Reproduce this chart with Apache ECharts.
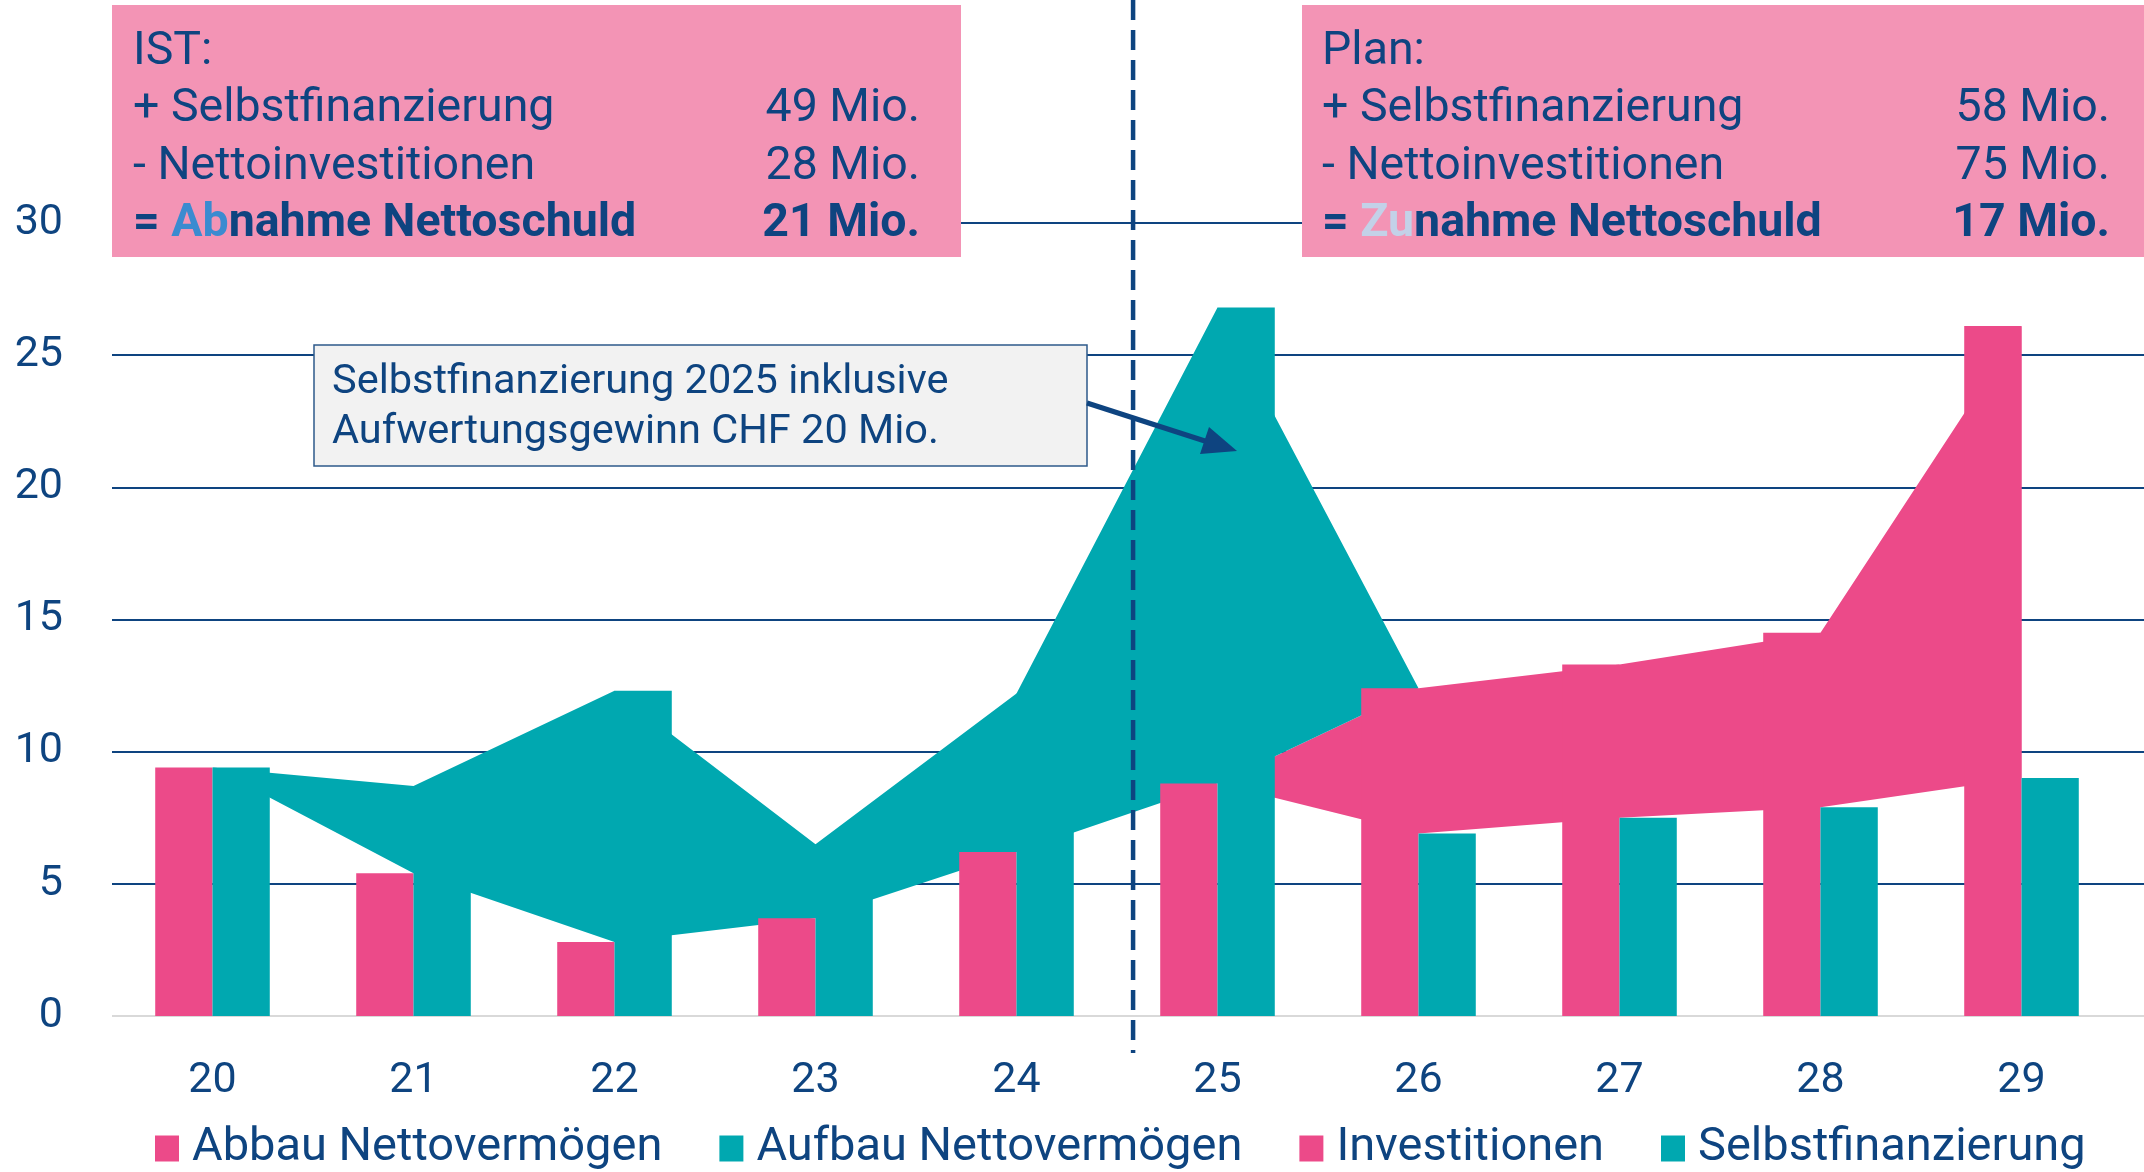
<!DOCTYPE html>
<html>
<head>
<meta charset="utf-8">
<script src="https://cdn.jsdelivr.net/npm/echarts@6/dist/echarts.min.js"></script>
<style>
  html, body { margin: 0; padding: 0; background: #fff; }
  #chart { width: 2144px; height: 1172px; }
</style>
</head>
<body>
<div id="chart"></div>
<script>
// Jahre (20 = 2020 ...)
const years = ['20', '21', '22', '23', '24', '25', '26', '27', '28', '29'];
// Werte in Mio. CHF
const investitionen = [9.4, 5.4, 2.8, 3.7, 6.2, 8.8, 12.4, 13.3, 14.5, 26.1];
const selbstfinanzierung = [9.4, 8.7, 12.3, 6.5, 12.2, 26.8, 6.9, 7.5, 7.9, 9.0];
const yMin = 0, yMax = 30, yStep = 5;

// Kastentexte
const istLines = ['IST:', '+ Selbstfinanzierung', '- Nettoinvestitionen'];
const istValues = ['', '49 Mio.', '28 Mio.', '21 Mio.'];
const planLines = ['Plan:', '+ Selbstfinanzierung', '- Nettoinvestitionen'];
const planValues = ['', '58 Mio.', '75 Mio.', '17 Mio.'];

const PINK = '#EC4A89';
const TEAL = '#00A8B0';
const NAVY = '#0E4480';
const FONT = 'Roboto';

// Band zwischen den beiden Reihen (gestapelte Flaechen)
const base = investitionen.map((v, i) => Math.min(v, selbstfinanzierung[i]));
const abbau = investitionen.map((v, i) => Math.max(0, v - selbstfinanzierung[i]));
const aufbau = investitionen.map((v, i) => Math.max(0, selbstfinanzierung[i] - v));

const chart = echarts.init(document.getElementById('chart'));

const option = {
  animation: false,
  textStyle: { fontFamily: FONT },
  grid: [
    { left: 112, right: 0, top: 223, bottom: 156 },
    { left: 112, right: 22, top: 223, bottom: 156 }
  ],
  legend: {
    left: 150,
    top: 1120,
    selectedMode: false,
    icon: 'rect',
    itemWidth: 24,
    itemHeight: 26,
    itemGap: 57,
    textStyle: { color: NAVY, fontSize: 47, fontFamily: FONT, padding: [0, 0, 0, 8] },
    data: ['Abbau Nettovermögen', 'Aufbau Nettovermögen', 'Investitionen', 'Selbstfinanzierung']
  },
  xAxis: [
    { type: 'value', gridIndex: 0, min: 0, max: 1, show: false },
    {
      type: 'category', gridIndex: 1, data: years,
      axisLine: { show: false }, axisTick: { show: false },
      axisLabel: { color: NAVY, fontSize: 43, margin: 44, fontFamily: FONT }
    }
  ],
  yAxis: [
    {
      type: 'value', gridIndex: 0, min: yMin, max: yMax, interval: yStep,
      axisLine: { show: false }, axisTick: { show: false },
      axisLabel: { color: NAVY, fontSize: 43, margin: 49, fontFamily: FONT },
      splitLine: {
        lineStyle: {
          color: ['#D9D9D9', NAVY, NAVY, NAVY, NAVY, NAVY, NAVY],
          width: 2
        }
      }
    },
    { type: 'value', gridIndex: 1, min: yMin, max: yMax, show: false }
  ],
  series: [
    {
      name: 'base', type: 'line', xAxisIndex: 1, yAxisIndex: 1, stack: 'band',
      data: base, symbol: 'none', lineStyle: { width: 0 }, silent: true, z: 1
    },
    {
      name: 'Abbau Nettovermögen', type: 'line', xAxisIndex: 1, yAxisIndex: 1, stack: 'band',
      data: abbau, symbol: 'none', color: PINK, itemStyle: { color: PINK },
      lineStyle: { width: 0 }, areaStyle: { color: PINK, opacity: 1 }, silent: true, z: 1
    },
    {
      name: 'Aufbau Nettovermögen', type: 'line', xAxisIndex: 1, yAxisIndex: 1, stack: 'band',
      data: aufbau, symbol: 'none', color: TEAL, itemStyle: { color: TEAL },
      lineStyle: { width: 0 }, areaStyle: { color: TEAL, opacity: 1 }, silent: true, z: 1
    },
    {
      name: 'Investitionen', type: 'bar', xAxisIndex: 1, yAxisIndex: 1,
      data: investitionen, barWidth: '28.5%', barGap: '0%', itemStyle: { color: PINK }, z: 3
    },
    {
      name: 'Selbstfinanzierung', type: 'bar', xAxisIndex: 1, yAxisIndex: 1,
      data: selbstfinanzierung, barWidth: '28.5%', barGap: '0%', itemStyle: { color: TEAL }, z: 3
    }
  ]
};
chart.setOption(option);

// Trennlinie IST / Plan zwischen 24 und 25
const x24 = chart.convertToPixel({ xAxisIndex: 1 }, '24');
const x25 = chart.convertToPixel({ xAxisIndex: 1 }, '25');
const xSplit = x24 + 0.58 * (x25 - x24);

function boxTexts(x0, xr, lines, values, bold, hl, hlColor) {
  const rowY = [52, 109, 167, 224];
  const fs = 46.5;
  const els = [];
  lines.forEach((t, i) => {
    els.push({
      type: 'text', z: 11,
      style: { text: t, x: x0, y: rowY[i], fill: NAVY, fontSize: fs, fontFamily: FONT, verticalAlign: 'middle' }
    });
  });
  els.push({
    type: 'text', z: 11,
    style: {
      text: '{p|= }{h|' + hl + '}{p|' + bold + '}', x: x0, y: rowY[3], verticalAlign: 'middle',
      rich: {
        p: { fill: NAVY, fontSize: fs, fontWeight: 'bold', fontFamily: FONT },
        h: { fill: hlColor, fontSize: fs, fontWeight: 'bold', fontFamily: FONT }
      }
    }
  });
  values.forEach((v, i) => {
    if (!v) return;
    els.push({
      type: 'text', z: 11,
      style: {
        text: v, x: xr, y: rowY[i], fill: NAVY, fontSize: fs, fontFamily: FONT,
        fontWeight: i === 3 ? 'bold' : 'normal', align: 'right', verticalAlign: 'middle'
      }
    });
  });
  return els;
}

const graphics = [
  {
    type: 'line', z: 12,
    shape: { x1: xSplit, y1: 0, x2: xSplit, y2: 1053 },
    style: { stroke: NAVY, lineWidth: 4.5, lineDash: [20, 10] }
  },
  { type: 'rect', z: 10, shape: { x: 112, y: 5, width: 849, height: 252 }, style: { fill: '#F394B5' } },
  { type: 'rect', z: 10, shape: { x: 1302, y: 5, width: 842, height: 252 }, style: { fill: '#F394B5' } },
  ...boxTexts(133, 920, istLines, istValues, 'nahme Nettoschuld', 'Ab', '#3B8BD0'),
  ...boxTexts(1322, 2110, planLines, planValues, 'nahme Nettoschuld', 'Zu', '#C3D1E8'),
  {
    type: 'rect', z: 10,
    shape: { x: 314, y: 345, width: 773, height: 121 },
    style: { fill: '#F2F2F2', stroke: '#2E5A8A', lineWidth: 1.5 }
  },
  {
    type: 'text', z: 11,
    style: {
      text: 'Selbstfinanzierung 2025 inklusive\nAufwertungsgewinn CHF 20 Mio.',
      x: 332, y: 408, fill: NAVY, fontSize: 41.5, lineHeight: 50, fontFamily: FONT, verticalAlign: 'middle'
    }
  },
  {
    type: 'line', z: 12,
    shape: { x1: 1087, y1: 403, x2: 1208, y2: 442 },
    style: { stroke: NAVY, lineWidth: 5 }
  },
  {
    type: 'polygon', z: 12,
    shape: { points: [[1237, 451], [1200, 454], [1209, 427]] },
    style: { fill: NAVY }
  }
];
chart.setOption({ graphic: graphics });
</script>
</body>
</html>
